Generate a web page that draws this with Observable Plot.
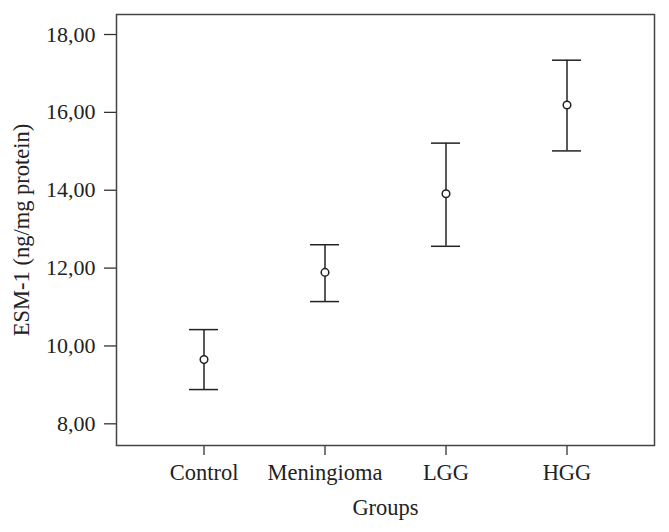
<!DOCTYPE html>
<html>
<head>
<meta charset="utf-8">
<script src="https://cdn.jsdelivr.net/npm/d3@7"></script>
<script src="https://cdn.jsdelivr.net/npm/@observablehq/plot@0.6"></script>
<style>
  body { margin: 0; background: #fff; }
</style>
</head>
<body>
<div id="chart"></div>
<script>
const groups = ["Control", "Meningioma", "LGG", "HGG"];
const means = [9.65, 11.89, 13.91, 16.19];
const lower = [8.88, 11.14, 12.56, 15.01];
const upper = [10.42, 12.60, 15.21, 17.34];
const yTicks = [8, 10, 12, 14, 16, 18];
const yTitle = "ESM-1 (ng/mg protein)";
const xTitle = "Groups";

const data = groups.map((g, i) => ({group: g, mean: means[i], lo: lower[i], hi: upper[i]}));
const ink = "#222";

const chart = Plot.plot({
  width: 669,
  height: 532,
  marginLeft: 116,
  marginRight: 15,
  marginTop: 14,
  marginBottom: 87,
  style: {fontFamily: "'Liberation Serif', serif", fontSize: "21px", color: ink, background: "#fff"},
  x: {type: "band", domain: groups, paddingInner: 0.761, paddingOuter: 0.598},
  y: {domain: [7.443, 18.514]},
  marks: [
    Plot.axisY({ticks: yTicks, tickSize: 12, tickPadding: 9, fontSize: 22,
      tickFormat: d => d.toFixed(2).replace(".", ","),
      label: null, stroke: "#333", strokeWidth: 1.3}),
    Plot.axisX({tickSize: 10, tickPadding: 9, fontSize: 22.5, label: null, stroke: "#333", strokeWidth: 1.3}),
    Plot.text([yTitle], {frameAnchor: "left", text: d => d, rotate: -90, dx: -95, dy: 0,
      lineAnchor: "middle", textAnchor: "middle", fontSize: 22.5, fill: ink}),
    Plot.text([xTitle], {frameAnchor: "bottom", text: d => d, dy: 62,
      lineAnchor: "middle", textAnchor: "middle", fontSize: 22.5, fill: ink}),
    Plot.frame({stroke: "#444", strokeWidth: 1.5}),
    Plot.ruleX(data, {x: "group", y1: "lo", y2: "hi", stroke: ink, strokeWidth: 1.5}),
    Plot.tickY(data, {x: "group", y: "lo", stroke: ink, strokeWidth: 1.5}),
    Plot.tickY(data, {x: "group", y: "hi", stroke: ink, strokeWidth: 1.5}),
    Plot.dot(data, {x: "group", y: "mean", r: 3.8, stroke: ink, fill: "#fff", strokeWidth: 1.5})
  ]
});
document.getElementById("chart").appendChild(chart);
</script>
</body>
</html>
